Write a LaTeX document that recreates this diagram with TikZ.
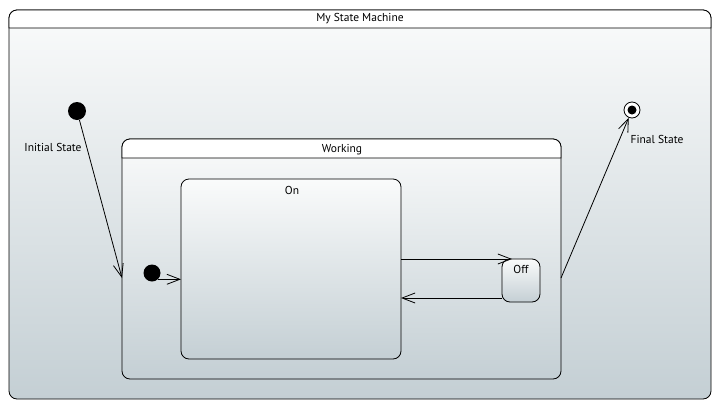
\documentclass[tikz,border=0pt]{standalone}
\usepackage{fontspec}
\setmainfont{PT Sans}
\usetikzlibrary{
  arrows.meta,
  calc,
  positioning,
  shapes,
}
\definecolor{gtop}{HTML}{FAFBFB}
\definecolor{gbot}{HTML}{C4CFD4}

\begin{document}
\begin{tikzpicture}[x=1pt,y=-1pt,
  font=\fontsize{11.5}{13}\selectfont,>={Straight Barb[length=13pt,width=10pt]},
  line width=.8pt,
  state/.style={draw,rounded corners=8pt,inner sep=0pt,outer sep=0pt,
    top color=gtop,bottom color=gbot},
  band/.style={draw,fill=white},
  lbl/.style={inner sep=1pt},
  init/.style={circle,fill=black,inner sep=0pt,minimum size=#1},
  fin/.style={circle,draw,fill=white,inner sep=0pt,minimum size=16pt}]
  \useasboundingbox (0,0) rectangle (716,405);
  %%
  \node[state,minimum width=702,minimum height=389](SM) at (360,204.5){};
  \draw[band] (9,28) [rounded corners=8pt] -- (9,10) -- (711,10)
    [sharp corners] -- (711,28) -- cycle;
  \node[lbl](SMlbl) at (360,19){My State Machine};
  %%
  \node[init=18pt](Init) at (77,111){};
  \node[lbl](Initlbl) at (53,147){Initial State};
  \node[fin](Fin) at (632,110){};
  \node[init=9pt](Findot) at (Fin){};
  \node[lbl](Finlbl) at (657,139){Final State};
  %%
  \node[state,minimum width=439,minimum height=240](Wk) at (341.5,259){};
  \draw[band] (122,158) [rounded corners=8pt] -- (122,139) -- (561,139)
    [sharp corners] -- (561,158) -- cycle;
  \node[lbl](Wklbl) at (342,150){Working};
  %%
  \node[state,minimum width=220,minimum height=180](On) at (291,269){};
  \node[lbl](Onlbl) at (292,190){On};
  \node[state,minimum width=38,minimum height=43](Off) at (521,280.5){};
  \node[lbl](Offlbl) at (521,269){Off};
  \node[init=17pt](Init2) at (152,273){};
  %%
  \coordinate(WkIn) at (122,278);
  \coordinate(WkOut) at (561,278);
  \coordinate(OffOut) at ([yshift=4pt]Off.south west);
  \draw[->] (Init) -- (WkIn);
  \draw[->] (WkOut) -- (Fin);
  \draw[->] (Init2.south east) -- (Init2.south east -| On.west);
  \draw[->] (On.east |- Off.north) -- ([xshift=-9pt]Off.north);
  \draw[->] (OffOut) -- (OffOut -| On.east);
\end{tikzpicture}
\end{document}
